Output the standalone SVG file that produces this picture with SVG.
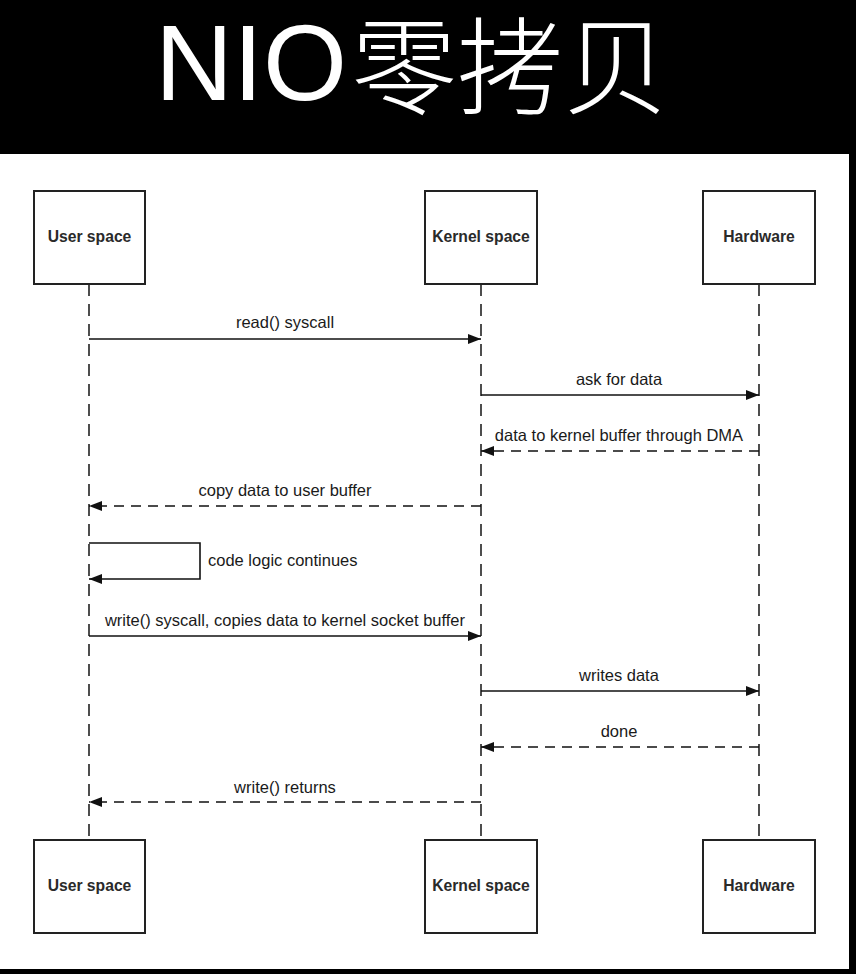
<svg xmlns="http://www.w3.org/2000/svg" width="856" height="974" viewBox="0 0 856 974">
<style>
.box{fill:#fff;stroke:#222;stroke-width:2}
.lt{font-family:"Liberation Sans",Arial,sans-serif;font-size:16.5px;fill:#1a1a1a;text-anchor:middle}
.bt{font-family:"Liberation Sans",Arial,sans-serif;font-size:15.7px;fill:#2a2a2a;text-anchor:middle;font-weight:bold}
.life{stroke:#222;stroke-width:1.6;stroke-dasharray:12 8;fill:none}
.msg{stroke:#111;stroke-width:1.6;fill:none;marker-end:url(#ah)}
.ret{stroke:#111;stroke-width:1.6;fill:none;stroke-dasharray:10 7;marker-end:url(#ah)}
</style>
<defs>
<marker id="ah" viewBox="0 0 13 10" refX="13" refY="5" markerWidth="13" markerHeight="10" markerUnits="userSpaceOnUse" orient="auto">
<path d="M0,0 L13,5 L0,10 z" fill="#111"/>
</marker>
</defs>
<rect x="0" y="0" width="856" height="974" fill="#000"/>
<rect x="0" y="154" width="849" height="815" fill="#fff"/>
<text x="155" y="100" font-family="Liberation Sans,'Noto Sans CJK SC',sans-serif" font-size="108" font-weight="300" fill="#fff">NIO<tspan dx="4" dy="6" font-family="'Noto Sans CJK SC',sans-serif" font-size="106" font-weight="200">零拷贝</tspan></text>
<g id="lifelines">
<line class="life" x1="89" y1="284" x2="89" y2="840"/>
<line class="life" x1="481" y1="284" x2="481" y2="840"/>
<line class="life" x1="759" y1="284" x2="759" y2="840"/>
</g>
<g id="user-top"><rect class="box" x="34" y="191" width="111" height="93"/><text class="bt" x="89.5" y="242">User space</text></g>
<g id="kernel-top"><rect class="box" x="425" y="191" width="112" height="93"/><text class="bt" x="481" y="242">Kernel space</text></g>
<g id="hw-top"><rect class="box" x="703" y="191" width="112" height="93"/><text class="bt" x="759" y="242">Hardware</text></g>
<g id="user-bottom"><rect class="box" x="34" y="840" width="111" height="93"/><text class="bt" x="89.5" y="891">User space</text></g>
<g id="kernel-bottom"><rect class="box" x="425" y="840" width="112" height="93"/><text class="bt" x="481" y="891">Kernel space</text></g>
<g id="hw-bottom"><rect class="box" x="703" y="840" width="112" height="93"/><text class="bt" x="759" y="891">Hardware</text></g>
<g id="connectors">
<line class="msg" x1="89" y1="339" x2="481" y2="339"/>
<line class="msg" x1="481" y1="395" x2="759" y2="395"/>
<line class="ret" x1="759" y1="451" x2="481" y2="451"/>
<line class="ret" x1="481" y1="506" x2="89" y2="506"/>
<polyline class="msg" points="89,543 200,543 200,579 89,579"/>
<line class="msg" x1="89" y1="636" x2="481" y2="636"/>
<line class="msg" x1="481" y1="691" x2="759" y2="691"/>
<line class="ret" x1="759" y1="747" x2="481" y2="747"/>
<line class="ret" x1="481" y1="802" x2="89" y2="802"/>
</g>
<g id="labels">
<text class="lt" x="285" y="328">read() syscall</text>
<text class="lt" x="619" y="385">ask for data</text>
<text class="lt" x="619" y="441">data to kernel buffer through DMA</text>
<text class="lt" x="285" y="496">copy data to user buffer</text>
<text class="lt" x="208" y="566" style="text-anchor:start">code logic continues</text>
<text class="lt" x="285" y="626">write() syscall, copies data to kernel socket buffer</text>
<text class="lt" x="619" y="681">writes data</text>
<text class="lt" x="619" y="737">done</text>
<text class="lt" x="285" y="793">write() returns</text>
</g>
</svg>
